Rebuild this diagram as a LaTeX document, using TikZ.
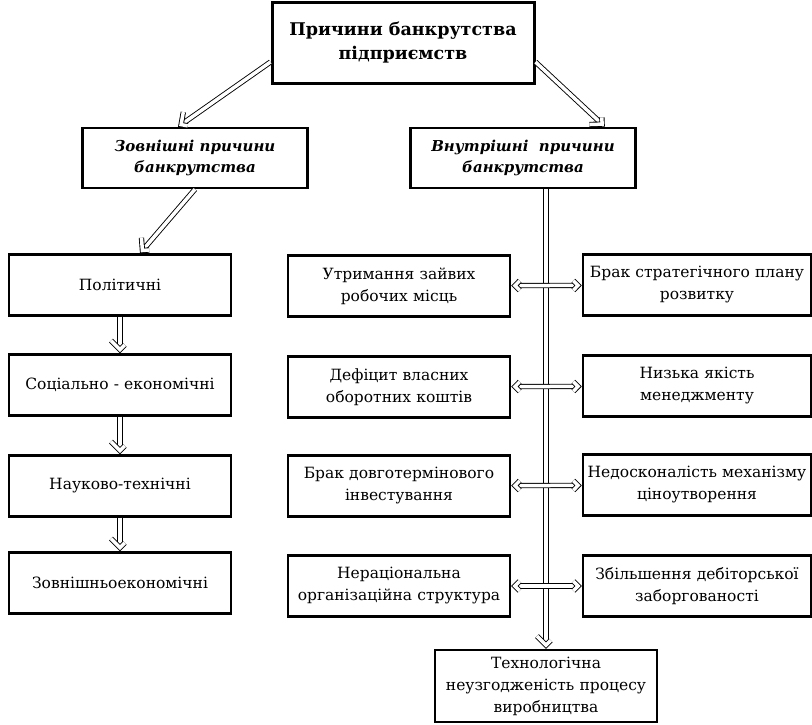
\documentclass[tikz,border=0pt]{standalone}
\usepackage{fontspec}
\setmainfont{DejaVu Serif}
\usetikzlibrary{decorations.markings}

\begin{document}
\begin{tikzpicture}[x=1pt,y=-1pt]
\tikzstyle{every node}=[draw, line width=2.4pt, inner sep=1pt, align=center,
  font=\fontsize{15.5}{22}\selectfont]
\tikzstyle{head}=[line width=3pt, minimum width=262pt, minimum height=81pt,
  font=\fontsize{17.5}{24}\selectfont\bfseries]
\tikzstyle{group}=[minimum width=225pt, minimum height=60pt,
  font=\fontsize{15}{21}\selectfont\bfseries\itshape]
\tikzstyle{cause}=[minimum width=222pt, minimum height=61pt, text width=226pt]
\tikzstyle{hollow}=[double, double distance=3.5pt, line width=0.9pt, miter limit=10]
\tikzstyle{dbl}=[hollow, shorten >=6pt,
  decoration={markings, mark=at position 1 with
    {\draw[hollow] (-12.7pt,-9pt) -- (-3.7pt,0pt) -- (-12.7pt,9pt);}},
  postaction=decorate]
\tikzstyle{both}=[hollow, shorten >=6pt, shorten <=6pt,
  decoration={markings,
    mark=at position 0 with
    {\draw[hollow] (12.7pt,-9pt) -- (3.7pt,0pt) -- (12.7pt,9pt);},
    mark=at position 1 with
    {\draw[hollow] (-12.7pt,-9pt) -- (-3.7pt,0pt) -- (-12.7pt,9pt);}},
  postaction=decorate]
\useasboundingbox (0,0) rectangle (812,724);
% top level
\draw (403,43) node (top) [head] {Причини банкрутства\\підприємств};
\draw (195,158) node (ext) [group] {Зовнішні причини\\банкрутства};
\draw (523,158) node (int) [group] {Внутрішні\ \ причини\\банкрутства};
% external causes
\draw (120,285) node (e1) [cause, text width=220pt] {Політичні};
\draw (120,385) node (e2) [cause, text width=220pt] {Соціально - економічні};
\draw (120,486) node (e3) [cause, text width=220pt] {Науково-технічні};
\draw (120,583) node (e4) [cause, text width=220pt] {Зовнішньоекономічні};
% internal causes
\draw (399,286) node (l1) [cause, text width=216pt] {Утримання зайвих\\робочих місць};
\draw (399,387) node (l2) [cause, text width=216pt] {Дефіцит власних\\оборотних коштів};
\draw (399,486) node (l3) [cause, text width=216pt] {Брак довготермінового\\інвестування};
\draw (399,586) node (l4) [cause, text width=216pt] {Нераціональна\\організаційна структура};
\draw (697,285) node (r1) [cause] {Брак стратегічного плану\\розвитку};
\draw (697,386) node (r2) [cause] {Низька якість\\менеджменту};
\draw (697,485) node (r3) [cause] {Недосконалість механізму\\ціноутворення};
\draw (697,586) node (r4) [cause] {Збільшення дебіторської\\заборгованості};
\draw (546,686) node (tech) [cause, text width=216pt, minimum height=72pt] {Технологічна\\неузгодженість процесу\\виробництва};
% arrows
\draw [dbl] (top.west |- 0,62) -- (ext.north -| 178,0);
\draw [dbl] (top.east |- 0,62) -- (ext.north -| 605,0);
\draw [dbl] (ext.south -| 195,0) -- (e1.north -| 140,0);
\draw [dbl] (e1) -- (e2);
\draw [dbl] (e2) -- (e3);
\draw [dbl] (e3) -- (e4);
\draw [dbl] (int.south -| tech.north) -- (tech.north);
\draw [both] (l1) -- (r1);
\draw [both] (l2) -- (r2);
\draw [both] (l3) -- (r3);
\draw [both] (l4) -- (r4);
\end{tikzpicture}
\end{document}
